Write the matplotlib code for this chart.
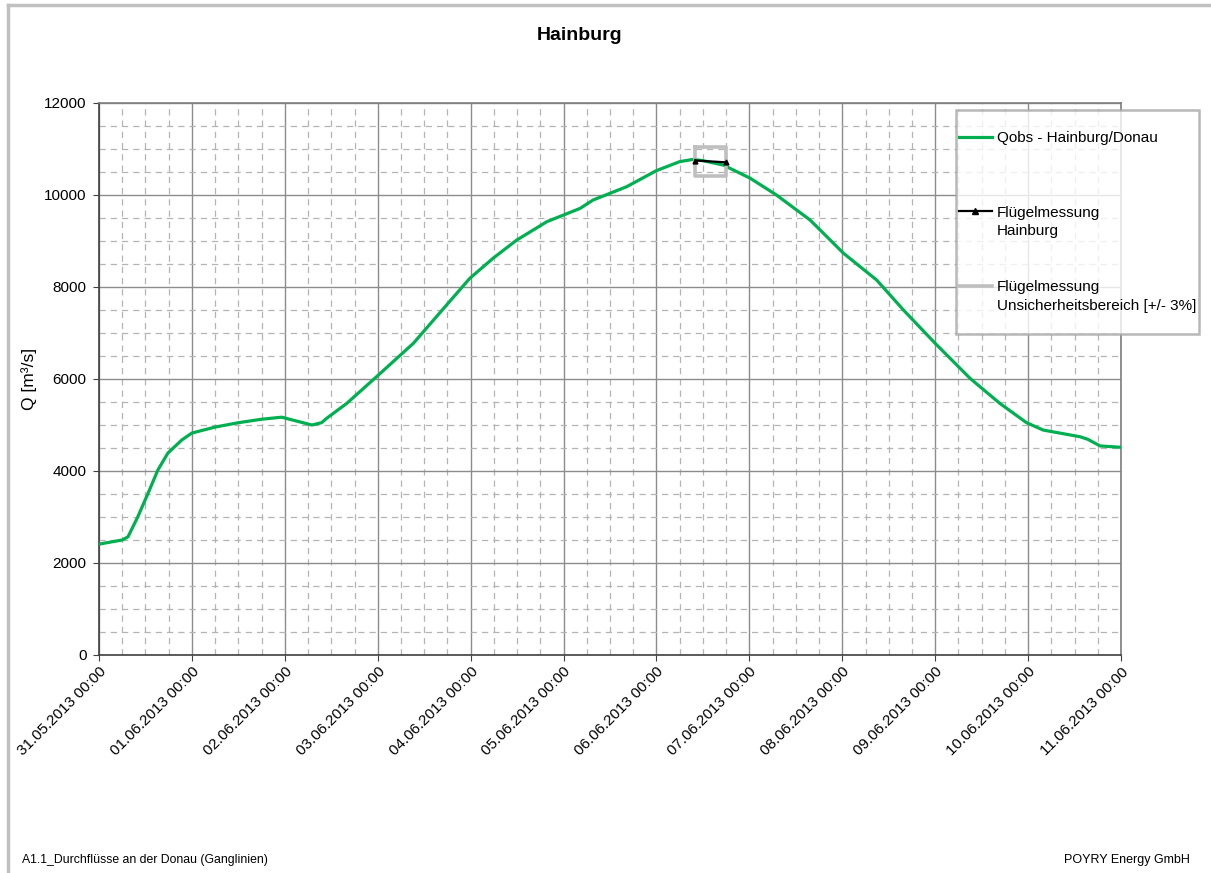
import numpy as np
import pandas as pd
import matplotlib
matplotlib.use('Agg')
import matplotlib.pyplot as plt
import matplotlib.dates as mdates
from matplotlib.lines import Line2D

plt.rcParams['font.family'] = ['Liberation Sans', 'DejaVu Sans']

# Observed discharge Hainburg/Donau, hours after 31.05.2013 00:00
obs_hours = [0, 6, 7.5, 10, 12.7, 15.2, 17.8, 21.4, 24, 30, 36, 42, 47.2, 50.6,
             55, 57.5, 58.8, 64, 71.7, 81.2, 89.8, 95.8, 101.8, 107.9, 115.7,
             124.3, 127.6, 136.3, 144, 150, 153.5, 156.1, 161.3, 168.2, 175,
             183.7, 192.3, 200.9, 207.8, 216, 225, 232.7, 239.6, 243.9, 253.4,
             255.4, 258.6, 264]
obs_q = [2410, 2500, 2570, 3000, 3520, 4020, 4390, 4675, 4825, 4955, 5050, 5125,
         5170, 5095, 5000, 5050, 5145, 5470, 6050, 6775, 7610, 8190, 8625, 9020,
         9420, 9710, 9890, 10180, 10530, 10725, 10775, 10745, 10650, 10365,
         10000, 9455, 8735, 8150, 7500, 6775, 6015, 5470, 5050, 4890, 4745,
         4690, 4545, 4515]

# Current meter measurement (Flügelmessung)
meas_times = ['2013-06-06 10:00', '2013-06-06 18:00']
meas_q = [10750, 10710]
uncert = 0.03

start = pd.Timestamp('2013-05-31 00:00')
end = pd.Timestamp('2013-06-11 00:00')
t_obs = start + pd.to_timedelta(obs_hours, unit='h')
t_meas = pd.to_datetime(meas_times)
q_mean = np.mean(meas_q)
q_lo, q_hi = q_mean * (1 - uncert), q_mean * (1 + uncert)

green = '#00B050'
boxgray = '#BFBFBF'

fig = plt.figure(figsize=(12.11, 8.73), dpi=100)
ax = fig.add_axes([99/1211, 1-655/873, (1121-99)/1211, (655-103)/873])

ax.plot(t_obs, obs_q, color=green, lw=2.3, zorder=3)
box_t = [t_meas[0], t_meas[1], t_meas[1], t_meas[0], t_meas[0]]
box_q = [q_hi, q_hi, q_lo, q_lo, q_hi]
ax.plot(box_t, box_q, color=boxgray, lw=2.6, zorder=4, solid_joinstyle='round')
ax.plot(t_meas, meas_q, color='black', lw=1.6, marker='^', ms=3.5, zorder=5)

ax.set_xlim(start, end)
ax.set_ylim(0, 12000)
ax.set_yticks(np.arange(0, 12001, 2000))
ax.set_yticks(np.arange(0, 12001, 500), minor=True)
ax.xaxis.set_major_locator(mdates.DayLocator())
ax.xaxis.set_minor_locator(mdates.HourLocator(byhour=[6, 12, 18]))
ax.xaxis.set_major_formatter(mdates.DateFormatter('%d.%m.%Y %H:%M'))

ax.grid(which='major', color='#8C8C8C', lw=1.0, zorder=1)
ax.grid(which='minor', color='#B4B4B4', lw=0.9, ls=(0, (5, 4)), zorder=1)
ax.set_axisbelow(True)
for s in ax.spines.values():
    s.set_color('#404040')
    s.set_linewidth(1.2)
ax.spines['top'].set_color('#7F7F7F')
ax.spines['right'].set_color('#7F7F7F')
ax.tick_params(which='major', length=4, color='#404040', labelsize=11, pad=3)
ax.tick_params(axis='y', pad=5)
ax.tick_params(which='minor', length=0)
for lab in ax.get_xticklabels():
    lab.set_rotation(45)
    lab.set_ha('right')
    lab.set_rotation_mode('anchor')

ax.set_ylabel('Q [m³/s]', fontsize=12.5, labelpad=5)

# legend rows: blank rows keep the spacing between entries
blank = Line2D([], [], ls='none')
handles = [blank,
           Line2D([], [], color=green, lw=2.3),
           blank, blank, blank,
           Line2D([], [], color='black', lw=1.6, marker='^', ms=4),
           blank, blank, blank,
           Line2D([], [], color=boxgray, lw=2.6),
           blank, blank]
labels = [' ', 'Qobs - Hainburg/Donau', ' ', ' ', ' ', 'Flügelmessung', 'Hainburg',
          ' ', ' ', 'Flügelmessung', 'Unsicherheitsbereich [+/- 3%]', ' ']
leg = ax.legend(handles, labels, loc='upper left',
                bbox_to_anchor=(956/1211, 1-110/873), bbox_transform=fig.transFigure,
                fontsize=11, frameon=True, fancybox=False, shadow=False,
                borderpad=0.18, labelspacing=0.3, handlelength=2.15,
                handletextpad=0.33, borderaxespad=0, numpoints=1)
leg.get_frame().set_edgecolor('#A6A6A6')
leg.get_frame().set_linewidth(1.8)
leg.set_zorder(10)

fig.text(580/1211, 1-36/873, 'Hainburg', ha='center', va='center',
         fontsize=14, fontweight='bold')
fig.text(22/1211, 1-860/873, 'A1.1_Durchflüsse an der Donau (Ganglinien)',
         ha='left', va='center', fontsize=8.8)
fig.text(1190/1211, 1-860/873, 'POYRY Energy GmbH', ha='right', va='center',
         fontsize=9)

# page frame lines
fig.add_artist(Line2D([8/1211, 1], [1-4.5/873, 1-4.5/873], color='#C0C0C0', lw=2.5,
                      transform=fig.transFigure))
fig.add_artist(Line2D([8/1211, 8/1211], [0, 1-4.5/873], color='#C0C0C0', lw=2.5,
                      transform=fig.transFigure))

fig.savefig('out.png', dpi=100)
